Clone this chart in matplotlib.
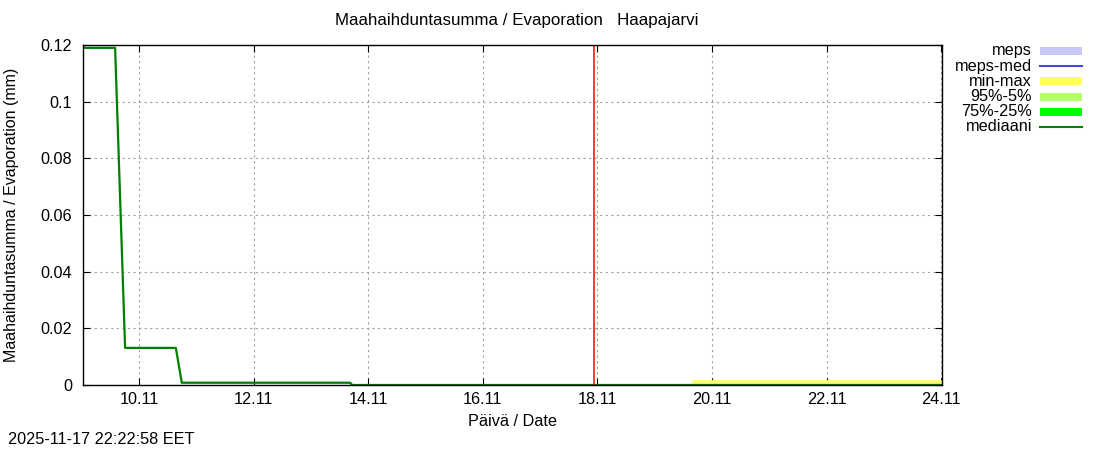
import matplotlib
matplotlib.use("Agg")
import matplotlib.pyplot as plt
import matplotlib.dates as mdates
from matplotlib.lines import Line2D
from matplotlib.patches import Rectangle
import numpy as np
from datetime import datetime

plt.rcParams['font.family'] = ['Liberation Sans', 'DejaVu Sans']

# ---- data ----
median_times = ["2025-11-09 00:30", "2025-11-09 13:57", "2025-11-09 18:08",
                "2025-11-10 15:23", "2025-11-10 17:53", "2025-11-13 16:24",
                "2025-11-13 17:15", "2025-11-24 00:20"]
median_vals = [0.119, 0.119, 0.0131, 0.0131, 0.0008, 0.0008, 0.0, 0.0]

minmax_times = ["2025-11-19 14:50", "2025-11-19 16:00", "2025-11-24 00:20"]
minmax_low = [0.0, 0.0, 0.0]
minmax_high = [0.0, 0.0019, 0.0019]

now_time = "2025-11-17 22:22"
x_start = "2025-11-09 00:30"
x_end = "2025-11-24 00:20"

tick_days = ["2025-11-10", "2025-11-12", "2025-11-14", "2025-11-16",
             "2025-11-18", "2025-11-20", "2025-11-22", "2025-11-24"]
tick_labels = ["10.11", "12.11", "14.11", "16.11", "18.11", "20.11", "22.11", "24.11"]
y_ticks = [0, 0.02, 0.04, 0.06, 0.08, 0.1, 0.12]
y_tick_labels = ["0", "0.02", "0.04", "0.06", "0.08", "0.1", "0.12"]

legend_labels = ["meps", "meps-med", "min-max", "95%-5%", "75%-25%", "mediaani"]
legend_colors = ["#c8c8f8", "#4848e0", "#ffff66", "#b4ff6e", "#00ff00", "#007f00"]
legend_kind = ["band", "line", "band", "band", "band", "line"]

title = "Maahaihduntasumma / Evaporation   Haapajarvi"
ylabel = "Maahaihduntasumma / Evaporation (mm)"
xlabel = "Päivä / Date"
stamp = "2025-11-17 22:22:58 EET"

def to_dt(lst):
    return [datetime.strptime(s, "%Y-%m-%d %H:%M") if " " in s else datetime.strptime(s, "%Y-%m-%d") for s in lst]

FS = 11.7

# ---- figure ----
fig = plt.figure(figsize=(11, 4.5), dpi=100)
ax = fig.add_axes([83/1100, 1-385/450, (942-83)/1100, (385-45)/450])

mt = mdates.date2num(to_dt(minmax_times))
ax.fill_between(mt, minmax_low, minmax_high, color="#ffff66", linewidth=0, zorder=2)

md = mdates.date2num(to_dt(median_times))
ax.plot(md, median_vals, color="#007f00", linewidth=1.6, zorder=3)

ax.axvline(mdates.date2num(to_dt([now_time]))[0], color="#ff0000", linewidth=1.1, zorder=4)

ax.set_xlim(mdates.date2num(to_dt([x_start]))[0], mdates.date2num(to_dt([x_end]))[0])
ax.set_ylim(0, 0.12)
ax.set_xticks(mdates.date2num(to_dt(tick_days)))
ax.set_xticklabels(tick_labels)
ax.set_yticks(y_ticks)
ax.set_yticklabels(y_tick_labels)
ax.tick_params(direction="in", length=5, width=0.8, labelsize=FS, top=True, right=True,
               colors="black")
ax.tick_params(axis="y", pad=8)
ax.tick_params(axis="x", pad=5)
ax.grid(True, color="#a0a0a0", linestyle=(0, (2, 3)), linewidth=0.8)
ax.set_axisbelow(True)
for s in ax.spines.values():
    s.set_linewidth(1.0)
    s.set_zorder(5)

fig.text(512/1100, 1-421/450, xlabel, ha="center", va="center", fontsize=FS)
fig.text(12/1100, 1-215/450, ylabel, ha="center", va="center", rotation=90, fontsize=11.5)
fig.text(517/1100, 1-20/450, title, ha="center", va="center", fontsize=12.2)
fig.text(8/1100, 1-440/450, stamp, ha="left", va="center", fontsize=FS)

# ---- legend ----
for i, (lab, col, kind) in enumerate(zip(legend_labels, legend_colors, legend_kind)):
    yc = 51 + i * 15.2
    fig.text(1032/1100, 1-yc/450, lab, ha="right", va="center", fontsize=FS)
    if kind == "band":
        fig.patches.append(Rectangle((1040/1100, 1-(yc+4)/450), 42/1100, 8/450,
                                     transform=fig.transFigure, color=col, linewidth=0))
    else:
        fig.lines.append(Line2D([1040/1100, 1082/1100], [1-yc/450, 1-yc/450],
                                transform=fig.transFigure, color=col, linewidth=1.5))

fig.savefig("out.png", dpi=100)
